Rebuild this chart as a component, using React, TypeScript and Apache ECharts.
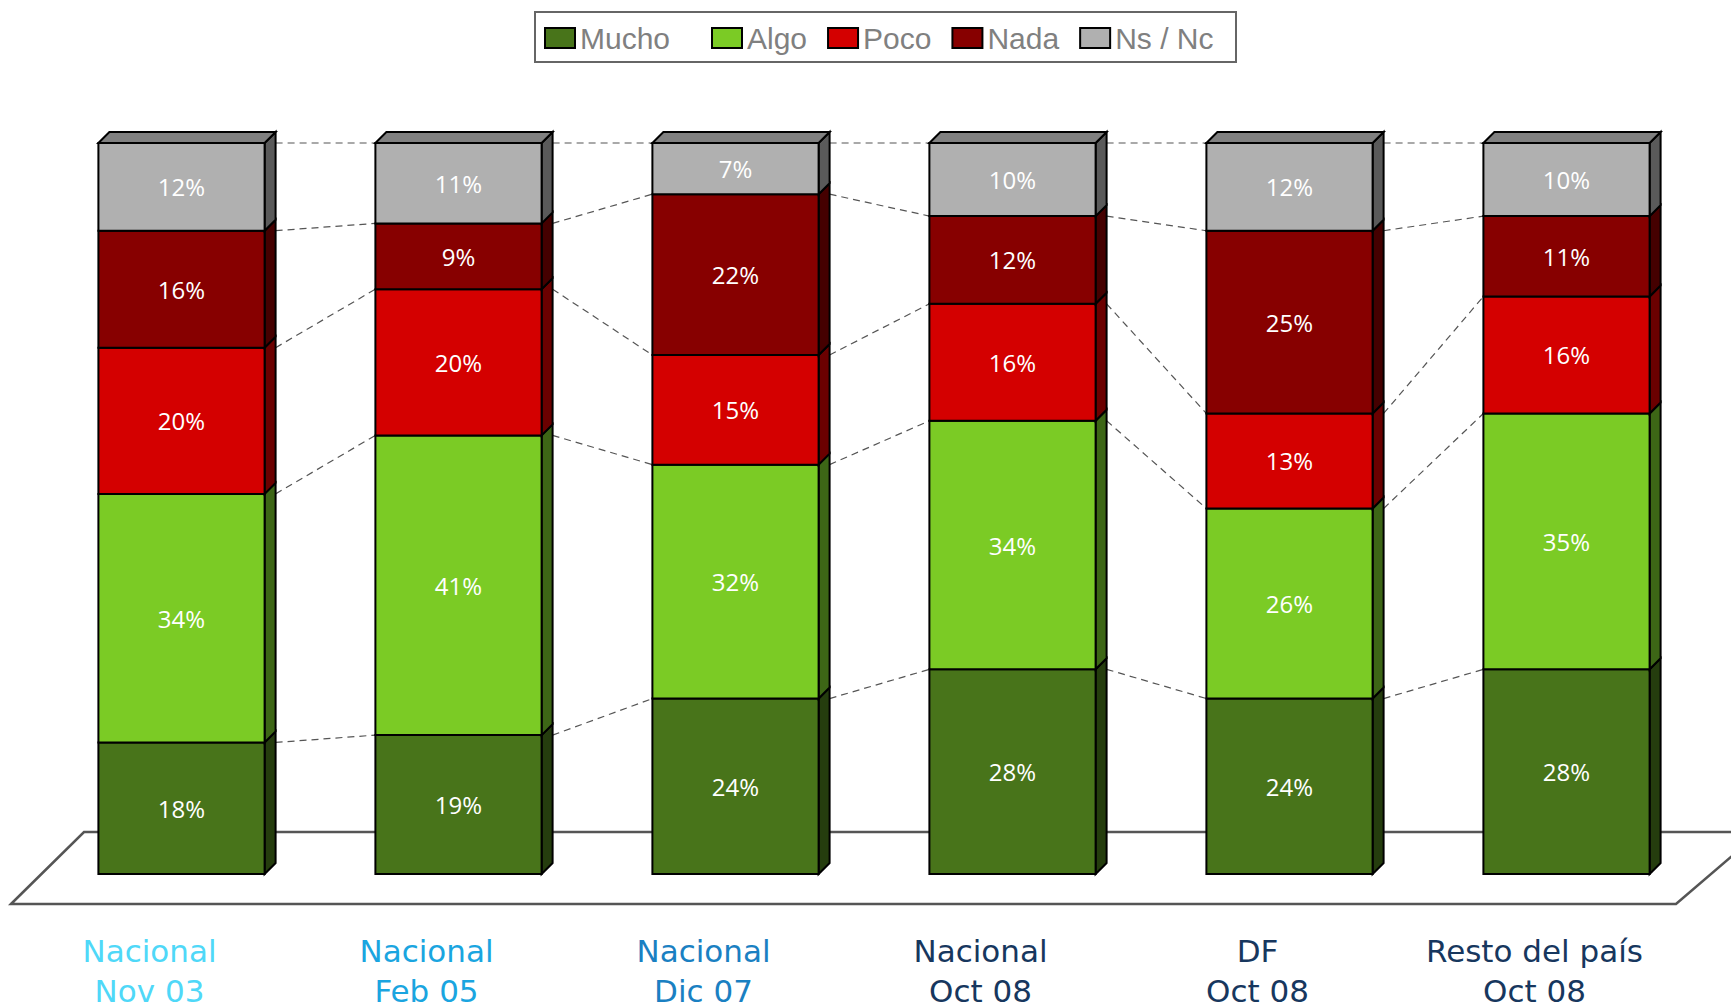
import React, { useEffect, useRef } from "react";
import * as echarts from "echarts";

const categories = [
  "Nacional\nNov 03",
  "Nacional\nFeb 05",
  "Nacional\nDic 07",
  "Nacional\nOct 08",
  "DF\nOct 08",
  "Resto del país\nOct 08",
];
const categoryColors = ["#4fd8f8", "#1aa5e0", "#1a80c2", "#17375e", "#17375e", "#17375e"];

const seriesNames = ["Mucho", "Algo", "Poco", "Nada", "Ns / Nc"];
const mucho = [18, 19, 24, 28, 24, 28];
const algo = [34, 41, 32, 34, 26, 35];
const poco = [20, 20, 15, 16, 13, 16];
const nada = [16, 9, 22, 12, 25, 11];
const nsnc = [12, 11, 7, 10, 12, 10];
const seriesValues = [mucho, algo, poco, nada, nsnc];

const frontColors = ["#48741a", "#7bcb25", "#d40000", "#870000", "#b0b0b0"];
const sideColors = ["#253d0e", "#3d6616", "#6b0000", "#450000", "#5a5a5a"];
const topColor = "#808080";

const DEPTH = 11;

export default function App() {
  const ref = useRef<HTMLDivElement>(null);

  useEffect(() => {
    if (!ref.current) return;
    const chart = echarts.init(ref.current, null, { renderer: "svg" });

    const cum: number[][] = categories.map((_, ci) => {
      const arr = [0];
      let s = 0;
      for (let k = 0; k < seriesValues.length; k++) {
        s += seriesValues[k][ci];
        arr.push(s);
      }
      return arr;
    });

    const stackSeries = seriesNames.map((name, k) => ({
      type: "custom",
      name,
      itemStyle: { color: frontColors[k] },
      encode: { x: 0, y: 2 },
      data: categories.map((_, ci) => [ci, cum[ci][k], seriesValues[k][ci]]),
      renderItem: (params: any, api: any) => {
        const ci = api.value(0);
        const base = api.value(1);
        const val = api.value(2);
        const p0 = api.coord([ci, base]);
        const p1 = api.coord([ci, base + val]);
        const w = api.size([1, 0])[0] * 0.6;
        const left = p0[0] - w / 2;
        const right = left + w;
        const yB = p0[1];
        const yT = p1[1];
        const children: any[] = [
          {
            type: "polygon",
            shape: {
              points: [
                [right, yT],
                [right + DEPTH, yT - DEPTH],
                [right + DEPTH, yB - DEPTH],
                [right, yB],
              ],
            },
            style: { fill: sideColors[k], stroke: "#000", lineWidth: 2, lineJoin: "miter" },
          },
        ];
        if (k === seriesNames.length - 1) {
          children.push({
            type: "polygon",
            shape: {
              points: [
                [left, yT],
                [left + DEPTH, yT - DEPTH],
                [right + DEPTH, yT - DEPTH],
                [right, yT],
              ],
            },
            style: { fill: topColor, stroke: "#000", lineWidth: 2 },
          });
        }
        children.push({
          type: "rect",
          shape: { x: left, y: yT, width: w, height: yB - yT },
          style: { fill: frontColors[k], stroke: "#000", lineWidth: 2 },
        });
        children.push({
          type: "text",
          style: {
            text: val + "%",
            x: (left + right) / 2,
            y: (yT + yB) / 2,
            fill: "#ffffff",
            font: '24px "Open Sans"',
            align: "center",
            verticalAlign: "middle",
            textAlign: "center",
            textVerticalAlign: "middle",
          },
        });
        return { type: "group", children };
      },
    }));

    const connectorSeries = {
      type: "custom",
      name: "connectors",
      silent: true,
      encode: { x: 0, y: 1 },
      data: categories.slice(0, -1).map((_, i) => [i, 100]),
      renderItem: (params: any, api: any) => {
        const i = api.value(0);
        const w = api.size([1, 0])[0] * 0.6;
        const children: any[] = [];
        for (let b = 1; b <= seriesNames.length; b++) {
          const a = api.coord([i, cum[i][b]]);
          const c = api.coord([i + 1, cum[i + 1][b]]);
          children.push({
            type: "line",
            shape: { x1: a[0] + w / 2 + DEPTH, y1: a[1], x2: c[0] - w / 2, y2: c[1] },
            style: { stroke: "#555555", lineWidth: 1.2, lineDash: [7, 5] },
          });
        }
        return { type: "group", children };
      },
    };

    const legendCommon = {
      orient: "horizontal",
      top: 23,
      padding: 0,
      icon: "rect",
      itemWidth: 30,
      itemHeight: 20,
      itemGap: 20,
      itemStyle: { borderColor: "#000", borderWidth: 2 },
      textStyle: {
        color: "#808080",
        fontFamily: '"Liberation Sans", Arial, sans-serif',
        fontSize: 30,
        lineHeight: 30,
        padding: [0, 0, 0, 0],
      },
      selectedMode: false,
    };

    chart.setOption({
      animation: false,
      backgroundColor: "#ffffff",
      grid: {
        left: 43,
        width: 1662,
        top: 143,
        height: 731,
        containLabel: false,
        outerBoundsMode: "none",
      },
      xAxis: {
        type: "category",
        data: categories,
        axisLine: { show: false },
        axisTick: { show: false },
        splitLine: { show: false },
        axisLabel: {
          interval: 0,
          margin: 57,
          fontFamily: '"DejaVu Sans", Verdana, sans-serif',
          fontSize: 31,
          lineHeight: 40,
          padding: [0, 64, 0, 0],
          color: (value: any, index: number) => categoryColors[index],
        },
      },
      yAxis: {
        type: "value",
        min: 0,
        max: 100,
        show: false,
      },
      legend: [
        { ...legendCommon, left: 544, data: ["Mucho"] },
        { ...legendCommon, left: 711, data: ["Algo", "Poco", "Nada", "Ns / Nc"] },
      ],
      graphic: [
        {
          type: "polygon",
          z: 0,
          silent: true,
          shape: {
            points: [
              [11, 904],
              [84, 832],
              [1760, 832],
              [1676, 904],
            ],
          },
          style: { fill: "#ffffff", stroke: "#555555", lineWidth: 2.5 },
        },
        {
          type: "rect",
          z: 0,
          silent: true,
          shape: { x: 535, y: 12, width: 701, height: 50 },
          style: { fill: "#ffffff", stroke: "#666666", lineWidth: 2 },
        },
      ],
      series: [connectorSeries, ...stackSeries],
    });

    return () => chart.dispose();
  }, []);

  return (
    <div
      ref={ref}
      style={{ position: "absolute", left: 0, top: 0, width: 1731, height: 1008 }}
    />
  );
}
